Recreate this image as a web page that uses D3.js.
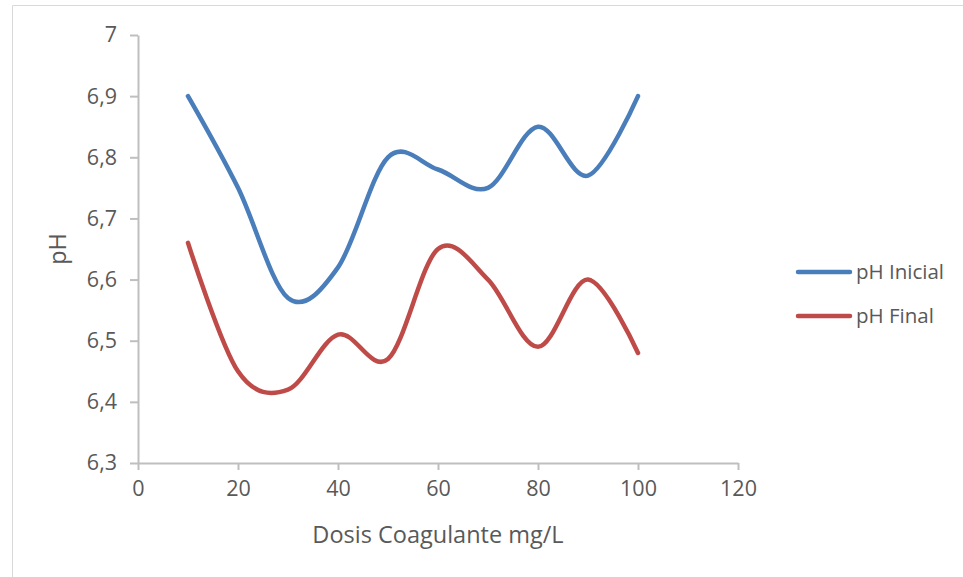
<!DOCTYPE html>
<html>
<head>
<meta charset="utf-8">
<script src="https://cdn.jsdelivr.net/npm/d3@7"></script>
<style>
  html, body { margin: 0; padding: 0; background: #ffffff; }
  svg { display: block; }
  text { font-family: "Open Sans", "Noto Sans", sans-serif; fill: #595959; }
</style>
</head>
<body>
<svg id="chart" width="963" height="577"></svg>
<script>
// Coagulant dose (mg/L) and measured pH
const doses = [10, 20, 30, 40, 50, 60, 70, 80, 90, 100];
const phInicial = [6.90, 6.75, 6.57, 6.62, 6.80, 6.78, 6.75, 6.85, 6.77, 6.90];
const phFinal   = [6.66, 6.45, 6.42, 6.51, 6.47, 6.65, 6.60, 6.49, 6.60, 6.48];

const seriesNames = ["pH Inicial", "pH Final"];
const seriesColors = ["#4a7ebb", "#be4b48"];

const xTicks = [0, 20, 40, 60, 80, 100, 120];
const yTicks = [6.3, 6.4, 6.5, 6.6, 6.7, 6.8, 6.9, 7.0];
const yTickLabels = ["6,3", "6,4", "6,5", "6,6", "6,7", "6,8", "6,9", "7"];

const xTitle = "Dosis Coagulante mg/L";
const yTitle = "pH";

const svg = d3.select("#chart");

// outer chart frame
svg.append("path")
  .attr("d", "M12.5,577 L12.5,5.5 L963,5.5")
  .attr("fill", "none")
  .attr("stroke", "#d9d9d9")
  .attr("stroke-width", 1);

const x = d3.scaleLinear().domain([0, 120]).range([138, 738]);
const y = d3.scaleLinear().domain([6.3, 7.0]).range([463, 35]);

const axisColor = "#bfbfbf";

// x axis
const xAxis = svg.append("g")
  .attr("transform", `translate(0,${y(6.3)})`)
  .call(d3.axisBottom(x).tickValues(xTicks).tickSize(7).tickPadding(11).tickSizeOuter(0));
xAxis.select(".domain").attr("stroke", axisColor).attr("stroke-width", 2);
xAxis.selectAll(".tick line").attr("stroke", axisColor).attr("stroke-width", 2);
xAxis.selectAll(".tick text")
  .attr("font-size", 21.5)
  .attr("fill", "#595959")
  .attr("font-family", "Open Sans, sans-serif");

// y axis
const yAxis = svg.append("g")
  .attr("transform", `translate(${x(0)},0)`)
  .call(d3.axisLeft(y).tickValues(yTicks)
    .tickFormat((d, i) => yTickLabels[i])
    .tickSize(8).tickPadding(13).tickSizeOuter(0));
yAxis.select(".domain").attr("stroke", axisColor).attr("stroke-width", 2);
yAxis.selectAll(".tick line").attr("stroke", axisColor).attr("stroke-width", 2);
yAxis.selectAll(".tick text")
  .attr("font-size", 21.5)
  .attr("fill", "#595959")
  .attr("font-family", "Open Sans, sans-serif");

// axis titles
svg.append("text")
  .attr("x", 438)
  .attr("y", 543)
  .attr("text-anchor", "middle")
  .attr("font-size", 23.5)
  .text(xTitle);

svg.append("text")
  .attr("transform", "translate(66,249) rotate(-90)")
  .attr("text-anchor", "middle")
  .attr("font-size", 23.5)
  .text(yTitle);

// smoothed series lines
const line = d3.line()
  .x(d => x(d[0]))
  .y(d => y(d[1]))
  .curve(d3.curveCardinal.tension(0));

[phInicial, phFinal].forEach((vals, i) => {
  svg.append("path")
    .datum(doses.map((dd, j) => [dd, vals[j]]))
    .attr("fill", "none")
    .attr("stroke", seriesColors[i])
    .attr("stroke-width", 4.5)
    .attr("stroke-linecap", "round")
    .attr("stroke-linejoin", "round")
    .attr("d", line);
});

// legend
const legendY = [272, 316];
seriesNames.forEach((name, i) => {
  const g = svg.append("g").attr("transform", `translate(0,${legendY[i]})`);
  g.append("line")
    .attr("x1", 798).attr("x2", 850)
    .attr("y1", 0).attr("y2", 0)
    .attr("stroke", seriesColors[i])
    .attr("stroke-width", 4.5)
    .attr("stroke-linecap", "round");
  g.append("text")
    .attr("x", 856)
    .attr("y", 0)
    .attr("dy", "0.35em")
    .attr("font-size", 20.5)
    .text(name);
});
</script>
</body>
</html>
